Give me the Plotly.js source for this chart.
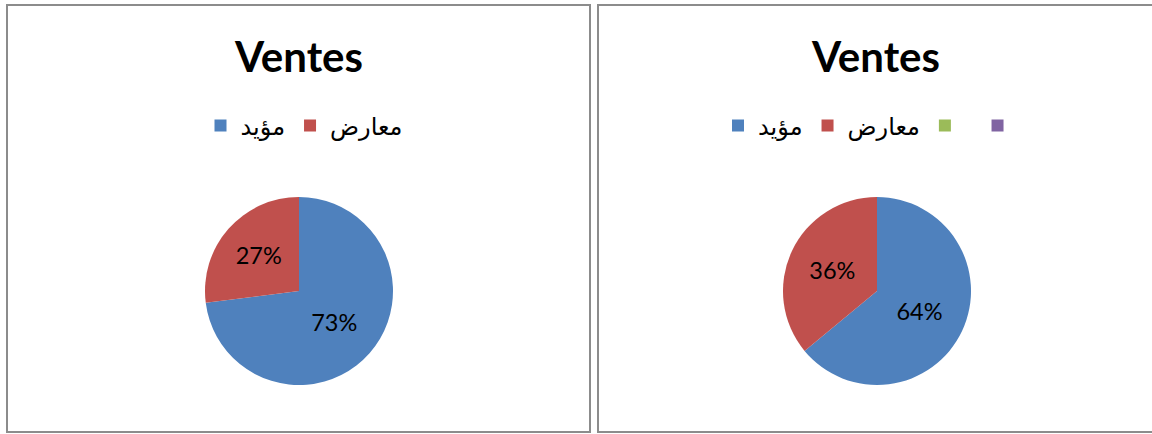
<!DOCTYPE html>
<html>
<head>
<meta charset="utf-8">
<script src="https://cdn.plot.ly/plotly-3.0.1.min.js"></script>
<style>
  html, body { margin: 0; padding: 0; background: #ffffff; width: 1152px; height: 434px; overflow: hidden; }
  .box { position: absolute; box-sizing: border-box; border: 2px solid #8c8c8c; background: #fff; }
  #c1 { left: 6px; top: 4px; width: 585px; height: 429px; }
  #c2 { left: 597px; top: 4px; width: 560px; height: 429px; }
</style>
</head>
<body>
<div id="c1" class="box"></div>
<div id="c2" class="box"></div>
<script>
// Data
const chartTitle = 'Ventes';
const labels1 = ['مؤيد', 'معارض'];
const values1 = [73, 27];
const labels2 = ['مؤيد', 'معارض', '\u00A0', '\u00A0\u00A0'];
const values2 = [64, 36, 0, 0];
const colors = ['#4F81BD', '#C0504D', '#9BBB59', '#8064A2'];

const titleFont = { family: 'Lato, "Open Sans", sans-serif', size: 42, color: '#000000', weight: 'bold' };
const legendFont = { family: '"DejaVu Sans", sans-serif', size: 24, color: '#000000' };
const pctFont = { family: 'Lato, "Open Sans", sans-serif', size: 23.5, color: '#000000' };

function pieTrace(labels, values, dom) {
  return {
    type: 'pie',
    labels: labels,
    values: values,
    sort: false,
    direction: 'clockwise',
    rotation: 0,
    marker: { colors: colors.slice(0, labels.length), line: { width: 0 } },
    texttemplate: '%{percent:.0%}',
    textposition: 'inside',
    insidetextorientation: 'horizontal',
    insidetextfont: pctFont,
    hoverinfo: 'label+percent',
    domain: dom
  };
}

function layoutFor(w, h, titleX, legendX) {
  return {
    width: w, height: h,
    margin: { l: 0, r: 0, t: 0, b: 0 },
    paper_bgcolor: '#ffffff',
    title: { text: '<b>' + chartTitle + '</b>', font: titleFont, x: titleX, xref: 'paper', xanchor: 'center', y: 1 - 51 / h, yref: 'container', yanchor: 'middle' },
    showlegend: true,
    legend: { orientation: 'h', x: legendX, xanchor: 'center', y: 1 - 120 / h, yanchor: 'middle', font: legendFont, itemclick: false, traceorder: 'normal' }
  };
}

const W1 = 581, H = 425;
const W2 = 556;
const cy = 285, r = 94;
const dy = [(H - cy - r) / H, (H - cy + r) / H];

Plotly.newPlot('c1', [pieTrace(labels1, values1, { x: [(291 - r) / W1, (291 + r) / W1], y: dy })],
  layoutFor(W1, H, 291 / W1, 296 / W1), { displayModeBar: false, staticPlot: true });

Plotly.newPlot('c2', [pieTrace(labels2, values2, { x: [(278 - r) / W2, (278 + r) / W2], y: dy })],
  layoutFor(W2, H, 277 / W2, 279 / W2), { displayModeBar: false, staticPlot: true });
</script>
</body>
</html>
